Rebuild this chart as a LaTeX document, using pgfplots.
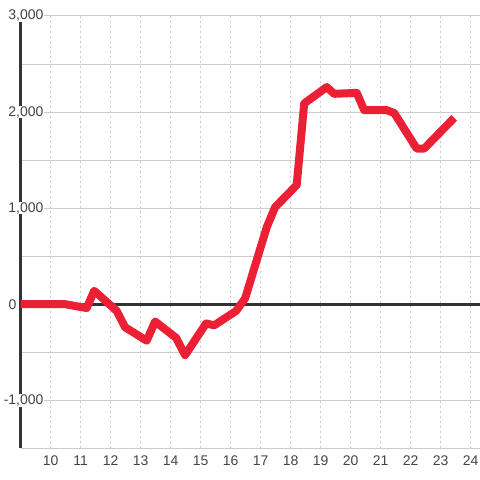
\documentclass[border=0pt]{standalone}
\usepackage{fontspec}
\setmainfont{Liberation Sans}
\usepackage{pgfplots}
\pgfplotsset{compat=1.18}
\definecolor{linered}{RGB}{236,32,52}
\definecolor{axisdark}{RGB}{51,51,51}
\definecolor{gridgray}{RGB}{204,204,204}
\definecolor{labelgray}{RGB}{68,68,68}
\newcommand{\tlfont}{\fontsize{14bp}{16bp}\selectfont}
\begin{document}
\begin{tikzpicture}
\path[use as bounding box] (-20.7bp,-31.7bp) rectangle (459.3bp,448.3bp);
\begin{axis}[
  at={(0,0)}, anchor=south west,
  scale only axis,
  width=459.3bp, height=432.3bp,
  xmin=9, xmax=24.31,
  ymin=-1500, ymax=3000,
  axis x line*=bottom, axis y line*=left,
  x axis line style={draw=gridgray, line width=1bp},
  y axis line style={draw=axisdark, line width=3bp},
  xtick={10,...,24},
  xticklabels={10,11,12,13,14,15,16,17,18,19,20,21,22,23,24},
  ytick={-1000,0,1000,2000,3000},
  yticklabels={{-1,000},{},{1,000},{2,000},{3,000}},
  minor ytick={-1500,-500,500,1500,2500},
  grid=both,
  major x grid style={draw=gridgray, line width=0.8bp, dash pattern=on 2.5bp off 2.5bp},
  major y grid style={draw=gridgray, line width=1bp},
  minor y grid style={draw=gridgray, line width=1bp},
  major tick length=0pt, minor tick length=0pt,
  extra y ticks={0},
  extra y tick labels={0},
  extra y tick style={grid=none, yticklabel style={xshift=-27bp, fill=none}},
  every tick label/.append style={font=\tlfont, text=labelgray},
  yticklabel style={anchor=east, xshift=23.5bp, fill=white, inner sep=0.5bp},
  xticklabel style={anchor=center, yshift=-12.4bp, inner sep=0pt},
  clip=false,
]
\draw[axisdark, line width=3bp] (axis cs:9,0) -- (axis cs:24.31,0);
\addplot[linered, line width=8bp, line join=round] coordinates {
(9,0) (10.2,0) (10.48,0) (11.2,-40) (11.45,140) (12.2,-70) (12.48,-240)
(13.2,-380) (13.48,-180) (14.18,-350) (14.48,-530) (15.18,-200) (15.45,-220)
(16.18,-70) (16.48,60) (17.2,800) (17.48,1010) (18.2,1240) (18.45,2090)
(19.2,2260) (19.45,2190) (20.2,2200) (20.45,2020) (21.2,2020) (21.45,1990)
(22.2,1620) (22.45,1620) (23.45,1940)
};
\end{axis}
\end{tikzpicture}
\end{document}
